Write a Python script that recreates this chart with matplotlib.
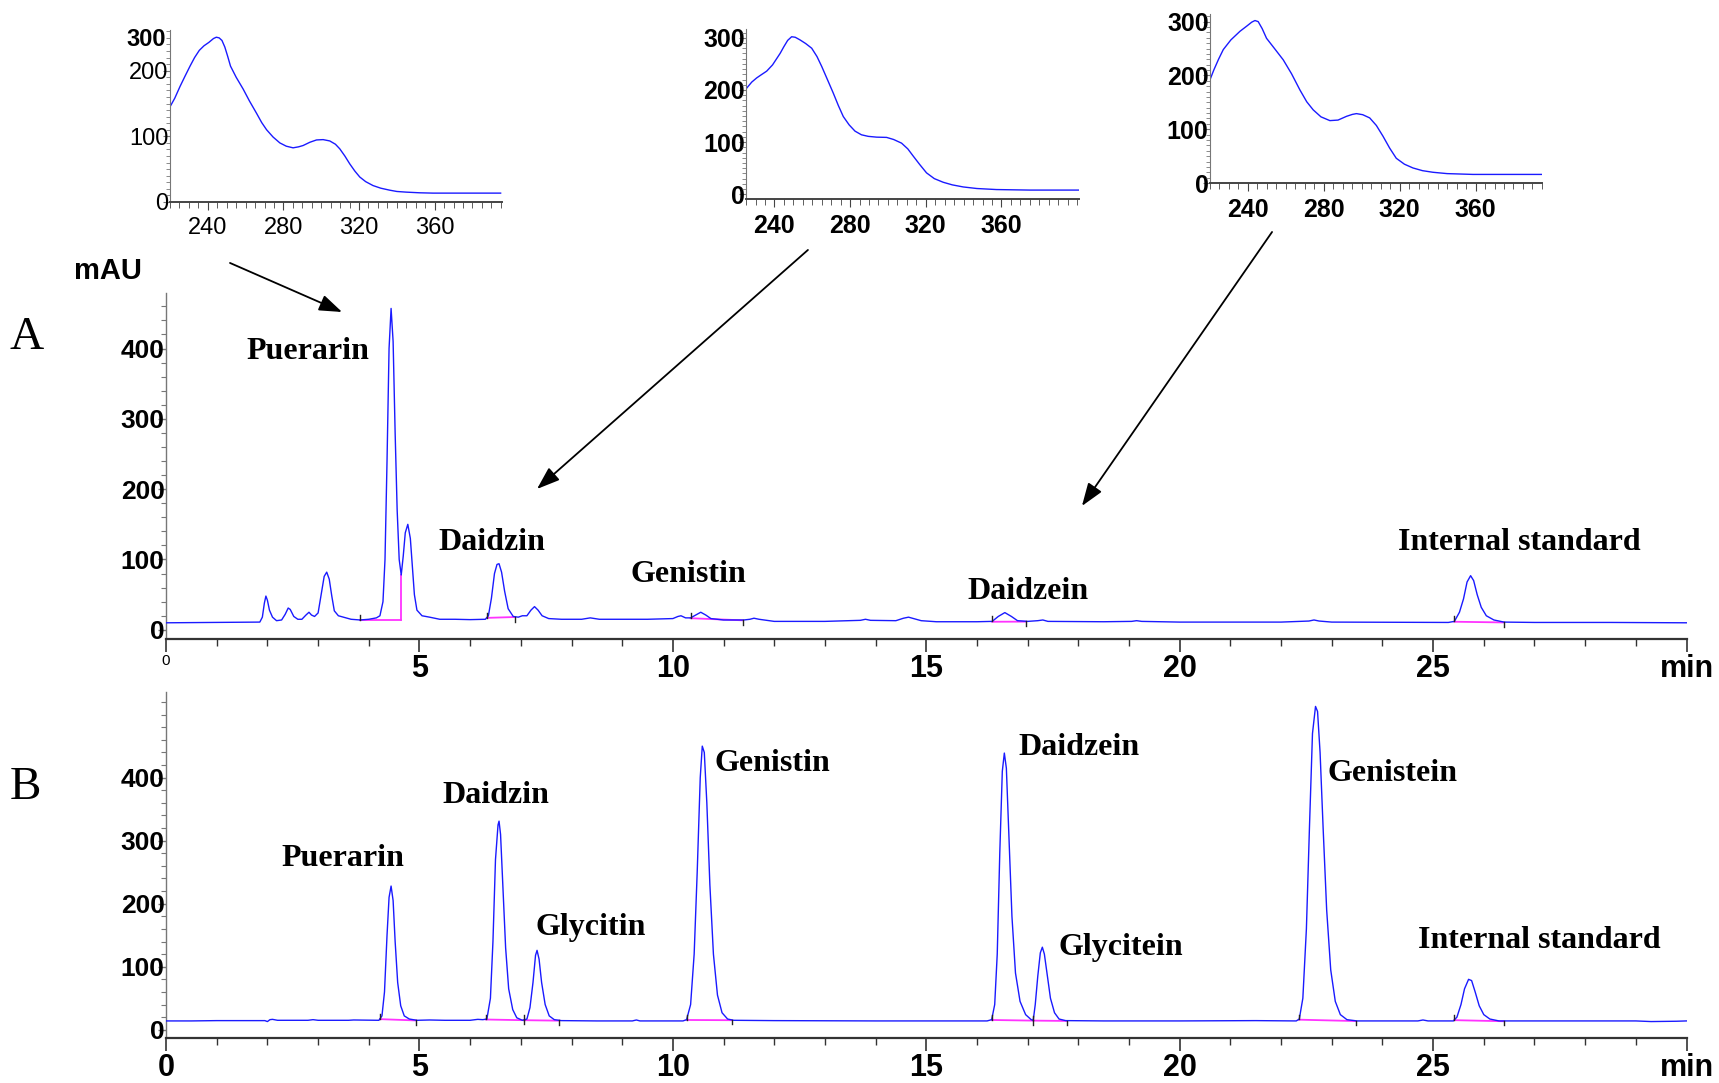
import numpy as np
import matplotlib.pyplot as plt
import matplotlib.transforms as mtransforms
from matplotlib.patches import FancyArrowPatch
from matplotlib.ticker import MultipleLocator

SANS = 'Liberation Sans'
SERIF = 'Liberation Serif'
BLUE = '#1a1aff'
MAGENTA = '#ff33ff'

# --- UV spectra of the three marked peaks (nm, mAU) ---
uv1_nm = [220.0, 222.5, 225.3, 228.0, 230.6, 233.0, 235.5, 238.0, 240.5, 243.0, 244.5, 246.0,
          247.5, 249.0, 250.5, 252.0, 255.0, 258.7, 262.0, 265.8, 268.5, 271.1, 274.5, 278.1,
          281.5, 285.1, 288.0, 290.4, 294.0, 297.5, 301.0, 304.5, 307.5, 309.8, 312.5, 315.1,
          317.8, 320.4, 323.5, 327.4, 331.5, 336.2, 340.0, 345.0, 352.0, 359.1, 375.0, 394.9]
uv1_mau = [145, 158, 176, 192, 207, 220, 231, 238, 243, 249, 251, 250,
           246, 236, 222, 207, 190, 172, 154, 135, 121, 110, 99, 90,
           85, 82.5, 84, 86, 91, 94.5, 95, 93, 88, 81, 70, 58,
           47, 38, 31, 25, 21, 18, 16, 15, 14, 13.5, 13.5, 13.5]

uv2_nm = [225.0, 228.0, 230.6, 233.0, 235.9, 239.0, 243.0, 245.0, 247.0, 249.1, 251.0, 253.5,
          256.5, 259.7, 262.5, 265.0, 268.0, 271.1, 273.8, 276.4, 279.5, 282.6, 286.0, 289.6,
          294.0, 299.3, 303.0, 307.2, 310.5, 313.4, 316.8, 320.4, 324.5, 329.2, 334.0, 339.8,
          347.0, 357.4, 375.0, 401.0]
uv2_mau = [202, 215, 223, 229, 236, 248, 270, 283, 295, 302, 301, 296,
           289, 280, 264, 245, 220, 194, 170, 149, 133, 121, 114, 111,
           109.5, 109, 105, 98, 87, 73, 57, 41, 30, 23, 18, 14,
           11, 9, 8, 8]

uv3_nm = [220.0, 222.0, 224.5, 227.0, 231.0, 235.8, 239.5, 242.0, 243.7, 245.4, 247.5, 249.8,
          254.0, 258.6, 263.0, 267.4, 271.0, 274.4, 278.5, 283.2, 287.5, 292.0, 295.0, 297.2,
          300.5, 304.2, 307.7, 311.2, 314.7, 318.2, 322.5, 327.0, 332.0, 337.5, 345.0, 358.6, 395.0]
uv3_mau = [192, 210, 230, 248, 266, 282, 292, 299, 302, 300, 287, 269,
           250, 229, 203, 173, 151, 136, 123, 116, 117, 124, 127.5, 129,
           127, 121, 107, 87, 65, 46, 35, 28, 23, 20, 17.5, 16, 16]

# --- chromatogram A (sample), time in min, signal in mAU ---
a_time = [0.0, 1.0, 1.85, 1.90, 1.94, 1.97, 2.00, 2.04, 2.10, 2.18, 2.28, 2.35, 2.41, 2.45, 2.52,
          2.60, 2.68, 2.76, 2.82, 2.87, 2.93, 3.00, 3.06, 3.12, 3.17, 3.22, 3.27, 3.32, 3.40,
          3.50, 3.65, 3.83, 4.00, 4.15, 4.22, 4.28, 4.32, 4.36, 4.40, 4.44, 4.48, 4.52, 4.56,
          4.60, 4.64, 4.68, 4.72, 4.77, 4.82, 4.86, 4.90, 4.95, 5.05, 5.20, 5.40, 5.70, 6.00,
          6.30, 6.36, 6.42, 6.48, 6.53, 6.57, 6.62, 6.68, 6.75, 6.85, 6.95, 7.03, 7.12, 7.20,
          7.27, 7.34, 7.42, 7.55, 7.80, 8.20, 8.37, 8.55, 9.00, 9.50, 10.00, 10.10, 10.16,
          10.25, 10.35, 10.45, 10.55, 10.65, 10.75, 11.00, 11.40, 11.52, 11.60, 11.70, 12.00,
          13.00, 13.70, 13.80, 13.90, 14.40, 14.55, 14.65, 14.75, 14.90, 15.20, 16.00, 16.30,
          16.42, 16.55, 16.68, 16.80, 17.00, 17.20, 17.30, 17.40, 18.50, 19.05, 19.15, 19.25,
          20.00, 22.00, 22.55, 22.65, 22.75, 23.00, 25.30, 25.42, 25.52, 25.60, 25.67, 25.74,
          25.80, 25.87, 25.95, 26.05, 26.20, 26.40, 27.00, 28.50, 30.00]
a_mau = [10, 10.5, 11, 18, 38, 48, 42, 28, 18, 13, 14, 22, 31, 29, 19,
         15, 15, 21, 25, 21, 19, 24, 50, 76, 82, 72, 48, 27, 20,
         18, 15, 14, 15, 17, 20, 40, 100, 240, 400, 457, 410, 280, 170,
         100, 78, 105, 138, 150, 130, 90, 50, 28, 20, 18, 15, 15, 14.5,
         15, 20, 45, 80, 93, 94, 82, 55, 30, 19, 18, 20, 20, 28,
         33, 28, 20, 16, 15, 15, 17, 15, 15, 15, 16, 19, 20,
         17, 17, 21, 25, 21, 16, 14, 14, 15, 16.5, 15, 12,
         12, 13.5, 15, 13.5, 13, 16.5, 18, 16, 13, 11.5, 11.5, 12,
         19, 24.5, 19, 13, 12, 13, 14, 12, 11.5, 12, 13, 12,
         11, 11, 12.5, 14, 12.5, 11, 10.5, 12, 25, 44, 68, 77,
         70, 50, 32, 20, 14, 11, 10.5, 10.5, 10]

# --- chromatogram B (standards) ---
b_time = [0.0, 0.5, 1.0, 1.95, 2.00, 2.05, 2.10, 2.20, 2.80, 2.90, 3.00, 3.60, 3.70,
          4.20, 4.26, 4.31, 4.36, 4.40, 4.44, 4.48, 4.52, 4.57, 4.63, 4.70, 4.80, 4.95,
          5.20, 5.50, 6.00, 6.15, 6.25, 6.33, 6.40, 6.45, 6.50, 6.55, 6.57, 6.60, 6.65,
          6.70, 6.76, 6.84, 6.92, 7.03, 7.12, 7.18, 7.24, 7.29, 7.32, 7.36, 7.41, 7.48,
          7.56, 7.66, 7.80, 8.50, 9.20, 9.28, 9.35, 10.20, 10.27, 10.35, 10.42, 10.48,
          10.54, 10.58, 10.62, 10.67, 10.73, 10.80, 10.88, 10.97, 11.08, 11.20, 12.00,
          14.00, 16.20, 16.29, 16.35, 16.40, 16.45, 16.50, 16.54, 16.58, 16.63, 16.69,
          16.76, 16.85, 16.96, 17.07, 17.11, 17.15, 17.20, 17.25, 17.29, 17.33, 17.39,
          17.45, 17.53, 17.62, 17.75, 18.50, 20.00, 21.50, 22.30, 22.36, 22.43, 22.50,
          22.56, 22.62, 22.68, 22.72, 22.77, 22.83, 22.90, 22.98, 23.07, 23.17, 23.30,
          23.50, 24.70, 24.80, 24.90, 25.40, 25.47, 25.55, 25.62, 25.70, 25.76, 25.83,
          25.91, 26.00, 26.12, 26.30, 27.50, 29.00, 29.30, 29.80, 30.00]
b_mau = [14, 14, 14.5, 14.5, 13, 16, 16.5, 15, 15, 16, 15, 15, 15.5,
         15, 22, 60, 150, 210, 228, 205, 140, 75, 38, 22, 17, 15,
         15.5, 15, 15, 16.5, 16, 17, 50, 140, 270, 325, 331, 310, 220,
         130, 65, 32, 19, 15, 17, 35, 75, 118, 126, 112, 75, 40,
         22, 16, 14.5, 14, 14, 15.5, 14, 14, 16, 40, 120, 250,
         400, 450, 440, 360, 230, 120, 55, 27, 17, 15, 14.5,
         14, 14, 16, 40, 120, 280, 410, 439, 415, 310, 180,
         90, 45, 24, 16, 15, 40, 85, 122, 131, 120, 85,
         50, 27, 17, 14.5, 14, 14, 14.5, 14, 17, 50, 160,
         320, 470, 513, 505, 440, 320, 190, 95, 45, 24, 16,
         14, 14, 15.5, 14, 14, 20, 40, 65, 80, 78, 60,
         38, 24, 17, 14, 14, 14, 13, 13.5, 14]

# --- integration marks (start, end in min) ---
a_int_start = [3.83, 6.33, 10.35, 16.30, 25.42]
a_int_end = [4.64, 6.88, 11.38, 16.97, 26.40]
a_drop = [4.64]
b_int_start = [4.22, 6.31, 7.06, 10.27, 16.29, 17.11, 22.35, 25.42]
b_int_end = [4.93, 7.06, 7.76, 11.16, 17.11, 17.77, 23.47, 26.40]

a_labels = ['Puerarin', 'Daidzin', 'Genistin', 'Daidzein', 'Internal standard']
b_labels = ['Puerarin', 'Daidzin', 'Glycitin', 'Genistin', 'Daidzein', 'Glycitein',
            'Genistein', 'Internal standard']
time_ticks = [0, 5, 10, 15, 20, 25, 30]
time_ticklabels = ['0', '5', '10', '15', '20', '25', 'min']

fig = plt.figure(figsize=(17.19, 10.83), dpi=100)


def style_chrom(ax, ymax, ymajor):
    ax.set_xlim(0, 30)
    ax.set_ylim(-13, ymax)
    for s in ['top', 'right']:
        ax.spines[s].set_visible(False)
    ax.spines['left'].set_color('#777777')
    ax.spines['left'].set_linewidth(1.0)
    ax.spines['bottom'].set_color('#333333')
    ax.spines['bottom'].set_linewidth(1.6)
    ax.set_xticks(time_ticks)
    ax.set_xticklabels(time_ticklabels, fontfamily=SANS, fontweight='bold', fontsize=22)
    ax.xaxis.set_minor_locator(MultipleLocator(1))
    ax.set_yticks(ymajor)
    ax.set_yticklabels([str(v) for v in ymajor], fontfamily=SANS, fontweight='bold', fontsize=19)
    ax.yaxis.set_minor_locator(MultipleLocator(20))
    ax.tick_params(axis='x', which='major', direction='out', length=9, width=1.2,
                   color='#333333', pad=2)
    ax.tick_params(axis='x', which='minor', direction='out', length=5, width=1.0,
                   color='#333333')
    ax.tick_params(axis='y', which='major', direction='out', length=6, width=1.0,
                   color='#777777', pad=-5)
    ax.tick_params(axis='y', which='minor', direction='out', length=3.5, width=0.8,
                   color='#777777')
    ax.patch.set_alpha(0)


def draw_integration(ax, t, y, starts, ends, drops, tick):
    for t0, t1 in zip(starts, ends):
        y0 = np.interp(t0, t, y)
        y1 = y0 if t1 in drops else np.interp(t1, t, y)
        ax.plot([t0, t1], [y0 - 0.5, y1 - 0.5], color=MAGENTA, lw=1.3, zorder=2)
        ax.plot([t0, t0], [y0, y0 + tick], color='#222222', lw=1.0, zorder=4)
        if t1 in drops:
            ax.plot([t1, t1], [y0 - 0.5, np.interp(t1, t, y)], color=MAGENTA, lw=1.3, zorder=2)
        else:
            ax.plot([t1, t1], [y1, y1 - tick], color='#222222', lw=1.0, zorder=4)


# ---------- panel A ----------
axA = fig.add_axes([0.0966, 0.410, 0.8845, 0.3195])
style_chrom(axA, 479, [0, 100, 200, 300, 400])
first = axA.get_xticklabels()[0]
first.set_fontsize(11)
first.set_fontweight('normal')
axA.plot(a_time, a_mau, color=BLUE, lw=1.0, zorder=3)
draw_integration(axA, a_time, a_mau, a_int_start, a_int_end, a_drop, 7)

a_pos = [(2.80, 396), (6.43, 124), (10.31, 79), (17.0, 55), (26.71, 124)]
for lab, (x, y) in zip(a_labels, a_pos):
    axA.text(x, y, lab, fontfamily=SERIF, fontweight='bold', fontsize=23,
             ha='center', va='center')

# ---------- panel B ----------
axB = fig.add_axes([0.0966, 0.0416, 0.8845, 0.3195])
style_chrom(axB, 536, [0, 100, 200, 300, 400])
axB.plot(b_time, b_mau, color=BLUE, lw=1.0, zorder=3)
draw_integration(axB, b_time, b_mau, b_int_start, b_int_end, [], 7)

b_pos = [(3.49, 271), (6.50, 371), (8.37, 163), (11.96, 422), (18.02, 448),
         (18.83, 130), (24.20, 406), (27.10, 142)]
for lab, (x, y) in zip(b_labels, b_pos):
    axB.text(x, y, lab, fontfamily=SERIF, fontweight='bold', fontsize=23,
             ha='center', va='center')


# ---------- UV insets ----------
def style_inset(ax, xlim, ylim, yticks, bold):
    w = 'bold' if bold else 'normal'
    fs = 18 if bold else 17
    ax.set_xlim(*xlim)
    ax.set_ylim(*ylim)
    for s in ['top', 'right']:
        ax.spines[s].set_visible(False)
    ax.spines['left'].set_color('#777777')
    ax.spines['bottom'].set_color('#444444')
    ax.spines['bottom'].set_linewidth(1.4)
    ax.set_xticks([240, 280, 320, 360])
    ax.set_xticklabels(['240', '280', '320', '360'], fontfamily=SANS, fontweight=w, fontsize=fs)
    ax.xaxis.set_minor_locator(MultipleLocator(5))
    ax.set_yticks(yticks)
    ax.set_yticklabels([str(v) for v in yticks], fontfamily=SANS, fontweight=w, fontsize=fs)
    ax.yaxis.set_minor_locator(MultipleLocator(10))
    ax.tick_params(axis='x', which='major', direction='out', length=6, color='#444444', pad=5)
    ax.tick_params(axis='x', which='minor', direction='out', length=4, color='#444444')
    ax.tick_params(axis='y', which='major', direction='out', length=5, color='#777777', pad=-4)
    ax.tick_params(axis='y', which='minor', direction='out', length=3, color='#777777')
    ax.patch.set_alpha(0)


ax1 = fig.add_axes([0.0989, 0.8135, 0.1931, 0.1588])
style_inset(ax1, (220, 395.6), (0, 262), [0, 100, 200], False)
ax1.plot(uv1_nm, uv1_mau, color=BLUE, lw=1.0)
trans1 = mtransforms.blended_transform_factory(ax1.transAxes, ax1.transData)
ax1.text(-0.012, 248, '300', transform=trans1, ha='right', va='center',
         fontfamily=SANS, fontweight='bold', fontsize=17)

ax2 = fig.add_axes([0.4340, 0.8163, 0.1937, 0.157])
style_inset(ax2, (225, 401), (-9, 317), [0, 100, 200, 300], True)
ax2.plot(uv2_nm, uv2_mau, color=BLUE, lw=1.0)

ax3 = fig.add_axes([0.7039, 0.8310, 0.1931, 0.156])
style_inset(ax3, (220, 395), (0, 314), [0, 100, 200, 300], True)
ax3.plot(uv3_nm, uv3_mau, color=BLUE, lw=1.0)

# ---------- arrows from spectra to peaks ----------
arrows = [((0.1338, 0.7572), (0.1990, 0.7119)),
          ((0.4700, 0.7692), (0.3124, 0.5485)),
          ((0.7400, 0.7858), (0.6294, 0.5328))]
for pa, pb in arrows:
    fig.add_artist(FancyArrowPatch(pa, pb, transform=fig.transFigure,
                                   arrowstyle='-|>,head_length=1.4,head_width=0.5',
                                   mutation_scale=10, lw=1.3, color='black',
                                   shrinkA=0, shrinkB=0))

# ---------- panel letters and unit ----------
fig.text(0.0157, 0.688, 'A', fontfamily=SERIF, fontsize=34, ha='center', va='center')
fig.text(0.0145, 0.273, 'B', fontfamily=SERIF, fontsize=34, ha='center', va='center')
fig.text(0.0628, 0.750, 'mAU', fontfamily=SANS, fontweight='bold', fontsize=21,
         ha='center', va='center')

fig.savefig('out.png', dpi=100)
